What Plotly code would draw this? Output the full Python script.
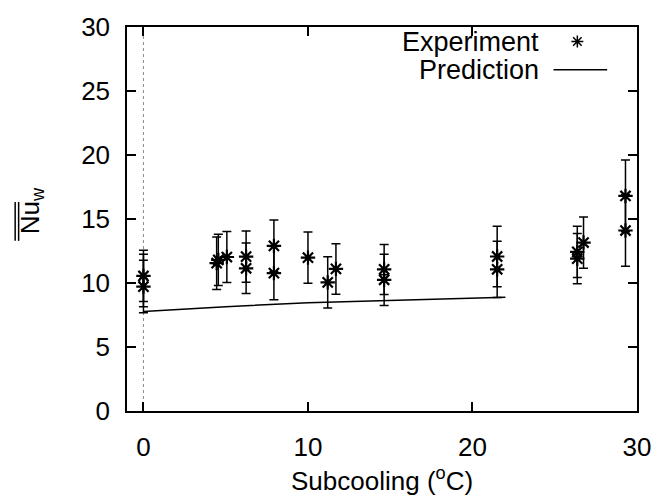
import plotly.graph_objects as go

# ---------------- data ----------------
exp_x = [0, 0, 4.45, 4.55, 5.07, 6.24, 6.24, 7.93, 7.93, 10.0, 11.2, 11.7,
         14.63, 14.63, 21.5, 21.5, 26.37, 26.37, 26.75, 29.3, 29.3]
exp_y = [10.55, 9.72, 11.55, 11.8, 12.03, 12.06, 11.15, 12.9, 10.77, 11.98, 10.05, 11.1,
         11.06, 10.25, 12.07, 11.07, 12.43, 11.9, 13.16, 16.8, 14.1]
exp_err = [2.0, 2.05, 2.05, 2.0, 2.0, 2.0, 1.98, 2.02, 2.08, 2.0, 2.0, 1.97,
           1.95, 2.0, 2.37, 2.2, 2.0, 1.96, 2.0, 2.8, 2.8]

circ_x = [0, 14.63, 26.37]
circ_y = [10.2, 10.65, 12.2]
circ_err = [2.05, 0, 0]

pred_x = [0, 5, 10, 15, 22]
pred_y = [7.78, 8.15, 8.45, 8.65, 8.88]

x_ticks = [0, 10, 20, 30]
y_ticks = [0, 5, 10, 15, 20, 25, 30]

# ---------------- layout helpers ----------------
W, H = 663, 502
L, R, T, B = 127, 640, 16, 411
FONT = "Liberation Sans, Arial, Helvetica, sans-serif"
FS = 26
FS_KEY = 27

LEG_E = 543      # right edge of key texts (px)
LEG_Y1 = 31      # Experiment row (px)
LEG_Y2 = 60      # Prediction row (px)
SAMPLE = (556, 610)


def px(xp):
    return (xp - L) / (R - L)


def py(yp):
    return (B - yp) / (B - T)


fig = go.Figure()

fig.add_trace(go.Scatter(
    x=pred_x, y=pred_y, mode="lines",
    line=dict(color="black", width=1.5), showlegend=False, hoverinfo="skip"))

fig.add_trace(go.Scatter(
    x=exp_x, y=exp_y, mode="markers",
    marker=dict(symbol="asterisk-open", size=12, color="black",
                line=dict(color="black", width=2.2)),
    error_y=dict(type="data", array=exp_err, visible=True, color="black",
                 thickness=1.5, width=4.5),
    showlegend=False))

fig.add_trace(go.Scatter(
    x=circ_x, y=circ_y, mode="markers",
    marker=dict(symbol="circle-open", size=8, color="black",
                line=dict(color="black", width=1.4)),
    error_y=dict(type="data", array=circ_err, visible=True, color="black",
                 thickness=1.5, width=4.5),
    showlegend=False))

# legend key marker (on hidden overlay axes)
fig.add_trace(go.Scatter(
    x=[px((SAMPLE[0] + SAMPLE[1]) / 2 - 3)], y=[py(LEG_Y1)], xaxis="x2", yaxis="y2",
    mode="markers",
    marker=dict(symbol="asterisk-open", size=10, color="black",
                line=dict(color="black", width=1.5)),
    showlegend=False, hoverinfo="skip"))

# zero axis (dotted)
fig.add_shape(type="line", xref="x", yref="paper", x0=0, x1=0, y0=0, y1=1,
              line=dict(color="#888888", width=1, dash="dot"), layer="below")

# legend line
fig.add_shape(type="line", xref="paper", yref="paper",
              x0=px(SAMPLE[0]), x1=px(SAMPLE[1]), y0=py(LEG_Y2), y1=py(LEG_Y2),
              line=dict(color="black", width=1.5))

ann = [
    dict(text="Experiment", x=px(LEG_E), y=py(LEG_Y1), xanchor="right", yanchor="middle",
         font=dict(family=FONT, size=FS_KEY, color="black")),
    dict(text="Prediction", x=px(LEG_E), y=py(LEG_Y2), xanchor="right", yanchor="middle",
         font=dict(family=FONT, size=FS_KEY, color="black")),
    dict(text="Subcooling (<sup>o</sup>C)", x=px(384), y=py(481),
         xanchor="center", yanchor="middle",
         font=dict(family=FONT, size=FS, color="black")),
    dict(text="Nu<sub>w</sub>", x=px(31), y=py(205), xanchor="center",
         yanchor="middle", textangle=-90,
         font=dict(family=FONT, size=FS, color="black")),
]
for a in ann:
    a.update(xref="paper", yref="paper", showarrow=False)

# double overline of Nu (title rotated)
for xo in (14.5, 18.0):
    fig.add_shape(type="line", xref="paper", yref="paper",
                  x0=px(xo), x1=px(xo), y0=py(196), y1=py(236),
                  line=dict(color="black", width=1.5))

axis_common = dict(
    showline=True, linecolor="black", linewidth=1.5, mirror="ticks",
    ticks="inside", ticklen=9, tickwidth=1.5, tickcolor="black",
    showgrid=False, zeroline=False,
    tickfont=dict(family=FONT, size=FS, color="black"),
)

fig.update_layout(
    width=W, height=H,
    margin=dict(l=L, r=W - R, t=T, b=H - B, pad=0),
    plot_bgcolor="white", paper_bgcolor="white",
    xaxis=dict(range=[-1, 30], tickvals=x_ticks, ticklabelstandoff=12, **axis_common),
    yaxis=dict(range=[0, 30], tickvals=y_ticks, ticklabelstandoff=10, **axis_common),
    xaxis2=dict(overlaying="x", range=[0, 1], visible=False),
    yaxis2=dict(overlaying="y", range=[0, 1], visible=False),
    annotations=ann,
    showlegend=False,
)

fig.write_html("out.html")
